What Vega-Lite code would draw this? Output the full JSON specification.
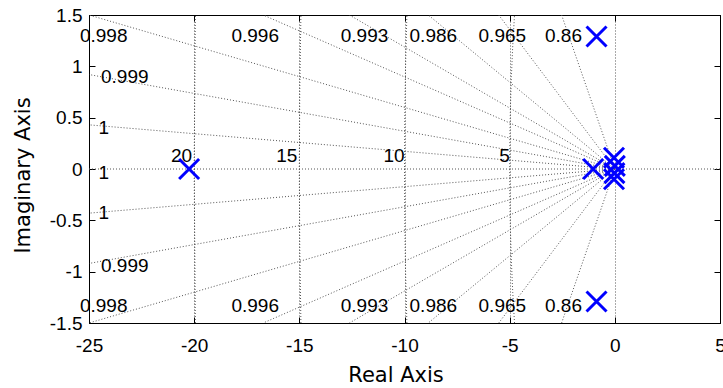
{
  "$schema": "https://vega.github.io/schema/vega-lite/v6.json",
  "width": 631,
  "height": 308,
  "autosize": {"type": "none"},
  "padding": {"left": 89, "top": 15, "right": 3, "bottom": 65},
  "background": "white",
  "config": {
    "view": {"stroke": "black", "strokeWidth": 1},
    "axis": {
      "labelFont": "Liberation Sans", "labelFontSize": 19, "labelColor": "black",
      "titleFont": "DejaVu Sans", "titleFontSize": 21, "titleFontWeight": "normal", "titleColor": "black",
      "domainColor": "black", "tickColor": "black", "grid": false
    },
    "text": {"font": "Liberation Sans", "fontSize": 19, "color": "black"}
  },
  "datasets": {
    "grid": [
      {"g": "z86u", "k": 0, "x": 0, "y": 0}, {"g": "z86u", "k": 1, "x": -2.53, "y": 1.5},
      {"g": "z86l", "k": 0, "x": 0, "y": 0}, {"g": "z86l", "k": 1, "x": -2.53, "y": -1.5},
      {"g": "z965u", "k": 0, "x": 0, "y": 0}, {"g": "z965u", "k": 1, "x": -5.52, "y": 1.5},
      {"g": "z965l", "k": 0, "x": 0, "y": 0}, {"g": "z965l", "k": 1, "x": -5.52, "y": -1.5},
      {"g": "z986u", "k": 0, "x": 0, "y": 0}, {"g": "z986u", "k": 1, "x": -8.87, "y": 1.5},
      {"g": "z986l", "k": 0, "x": 0, "y": 0}, {"g": "z986l", "k": 1, "x": -8.87, "y": -1.5},
      {"g": "z993u", "k": 0, "x": 0, "y": 0}, {"g": "z993u", "k": 1, "x": -12.62, "y": 1.5},
      {"g": "z993l", "k": 0, "x": 0, "y": 0}, {"g": "z993l", "k": 1, "x": -12.62, "y": -1.5},
      {"g": "z996u", "k": 0, "x": 0, "y": 0}, {"g": "z996u", "k": 1, "x": -16.72, "y": 1.5},
      {"g": "z996l", "k": 0, "x": 0, "y": 0}, {"g": "z996l", "k": 1, "x": -16.72, "y": -1.5},
      {"g": "z998u", "k": 0, "x": 0, "y": 0}, {"g": "z998u", "k": 1, "x": -25, "y": 1.5},
      {"g": "z998l", "k": 0, "x": 0, "y": 0}, {"g": "z998l", "k": 1, "x": -25, "y": -1.5},
      {"g": "z999u", "k": 0, "x": 0, "y": 0}, {"g": "z999u", "k": 1, "x": -25, "y": 0.92},
      {"g": "z999l", "k": 0, "x": 0, "y": 0}, {"g": "z999l", "k": 1, "x": -25, "y": -0.92},
      {"g": "z1u", "k": 0, "x": 0, "y": 0}, {"g": "z1u", "k": 1, "x": -25, "y": 0.43},
      {"g": "z1l", "k": 0, "x": 0, "y": 0}, {"g": "z1l", "k": 1, "x": -25, "y": -0.43},
      {"g": "z1h", "k": 0, "x": -25, "y": 0}, {"g": "z1h", "k": 1, "x": 5, "y": 0},
      {"g": "w5", "k": 0, "x": -4.770, "y": -1.5}, {"g": "w5", "k": 1, "x": -4.854, "y": -1.2},
      {"g": "w5", "k": 2, "x": -4.918, "y": -0.9}, {"g": "w5", "k": 3, "x": -4.964, "y": -0.6},
      {"g": "w5", "k": 4, "x": -4.991, "y": -0.3}, {"g": "w5", "k": 5, "x": -5, "y": 0},
      {"g": "w5", "k": 6, "x": -4.991, "y": 0.3}, {"g": "w5", "k": 7, "x": -4.964, "y": 0.6},
      {"g": "w5", "k": 8, "x": -4.918, "y": 0.9}, {"g": "w5", "k": 9, "x": -4.854, "y": 1.2},
      {"g": "w5", "k": 10, "x": -4.770, "y": 1.5},
      {"g": "w10", "k": 0, "x": -9.887, "y": -1.5}, {"g": "w10", "k": 1, "x": -9.950, "y": -1},
      {"g": "w10", "k": 2, "x": -9.987, "y": -0.5}, {"g": "w10", "k": 3, "x": -10, "y": 0},
      {"g": "w10", "k": 4, "x": -9.987, "y": 0.5}, {"g": "w10", "k": 5, "x": -9.950, "y": 1},
      {"g": "w10", "k": 6, "x": -9.887, "y": 1.5},
      {"g": "w15", "k": 0, "x": -14.925, "y": -1.5}, {"g": "w15", "k": 1, "x": -14.981, "y": -0.75},
      {"g": "w15", "k": 2, "x": -15, "y": 0}, {"g": "w15", "k": 3, "x": -14.981, "y": 0.75},
      {"g": "w15", "k": 4, "x": -14.925, "y": 1.5},
      {"g": "w20", "k": 0, "x": -19.944, "y": -1.5}, {"g": "w20", "k": 1, "x": -20, "y": 0},
      {"g": "w20", "k": 2, "x": -19.944, "y": 1.5}
    ],
    "labels": [
      {"x": -24.3, "y": 1.3, "t": "0.998"},
      {"x": -17.1, "y": 1.3, "t": "0.996"},
      {"x": -11.9, "y": 1.3, "t": "0.993"},
      {"x": -8.63, "y": 1.3, "t": "0.986"},
      {"x": -5.35, "y": 1.3, "t": "0.965"},
      {"x": -2.44, "y": 1.3, "t": "0.86"},
      {"x": -24.3, "y": -1.33, "t": "0.998"},
      {"x": -17.1, "y": -1.33, "t": "0.996"},
      {"x": -11.9, "y": -1.33, "t": "0.993"},
      {"x": -8.63, "y": -1.33, "t": "0.986"},
      {"x": -5.35, "y": -1.33, "t": "0.965"},
      {"x": -2.44, "y": -1.33, "t": "0.86"},
      {"x": -23.3, "y": 0.9, "t": "0.999"},
      {"x": -23.3, "y": -0.94, "t": "0.999"},
      {"x": -24.3, "y": 0.4, "t": "1"},
      {"x": -24.3, "y": -0.04, "t": "1"},
      {"x": -24.3, "y": -0.43, "t": "1"},
      {"x": -20.6, "y": 0.125, "t": "20"},
      {"x": -15.6, "y": 0.125, "t": "15"},
      {"x": -10.5, "y": 0.125, "t": "10"},
      {"x": -5.25, "y": 0.125, "t": "5"}
    ],
    "poles": [
      {"x": -20.24, "y": 0},
      {"x": -1.03, "y": 0},
      {"x": -0.87, "y": 1.29},
      {"x": -0.87, "y": -1.29},
      {"x": -0.04, "y": 0.11},
      {"x": 0.0, "y": 0.03},
      {"x": -0.02, "y": -0.04},
      {"x": -0.04, "y": -0.1}
    ]
  },
  "resolve": {"axis": {"x": "independent", "y": "independent"}},
  "layer": [
    {
      "data": {"name": "grid"},
      "mark": {"type": "line", "stroke": "#555", "strokeWidth": 1, "strokeDash": [1, 2], "clip": true},
      "encoding": {
        "x": {"field": "x", "type": "quantitative", "scale": {"domain": [-25, 5], "nice": false, "zero": false},
          "axis": {"orient": "bottom", "values": [-25, -20, -15, -10, -5, 0, 5], "labelExpr": "'' + datum.value",
            "grid": true, "gridColor": "#555", "gridDash": [1, 2], "tickSize": -6, "labelPadding": 19,
            "title": "Real Axis", "titleX": 306.5, "titleY": 58.7, "titleBaseline": "alphabetic", "labelFlush": false}},
        "y": {"field": "y", "type": "quantitative", "scale": {"domain": [-1.5, 1.5], "nice": false, "zero": false},
          "axis": {"orient": "left", "values": [-1.5, -1, -0.5, 0, 0.5, 1, 1.5], "labelExpr": "'' + datum.value",
            "tickSize": -6, "labelPadding": 13, "title": "Imaginary Axis", "titleX": -60, "titleY": 160,
            "titleBaseline": "alphabetic", "labelFlush": false}},
        "detail": {"field": "g"},
        "order": {"field": "k", "type": "quantitative"}
      }
    },
    {
      "data": {"name": "labels"},
      "mark": {"type": "text", "align": "center", "baseline": "middle"},
      "encoding": {
        "x": {"field": "x", "type": "quantitative",
          "axis": {"orient": "top", "values": [-25, -20, -15, -10, -5, 0, 5], "labels": false, "tickSize": -6, "title": null}},
        "y": {"field": "y", "type": "quantitative",
          "axis": {"orient": "right", "values": [-1.5, -1, -0.5, 0, 0.5, 1, 1.5], "labels": false, "tickSize": -6, "title": null}},
        "text": {"field": "t"}
      }
    },
    {
      "data": {"name": "poles"},
      "mark": {"type": "point", "shape": "M-1,-1L1,1M1,-1L-1,1", "filled": false, "stroke": "#0000ff", "strokeWidth": 3, "size": 400, "opacity": 1},
      "encoding": {
        "x": {"field": "x", "type": "quantitative", "axis": null},
        "y": {"field": "y", "type": "quantitative", "axis": null}
      }
    }
  ]
}
